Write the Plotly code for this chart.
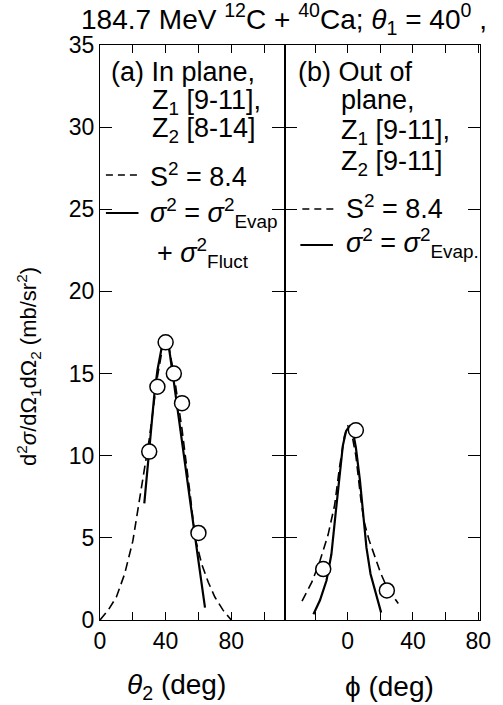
import plotly.graph_objects as go

# ---- data ----
# panel (a): in plane, theta2 (deg)
a_pts_x = [30, 35, 40, 45, 50, 60]
a_pts_y = [10.25, 14.2, 16.9, 15.0, 13.2, 5.3]
a_dash_x = [0, 5, 10, 15, 20, 25, 30, 35, 38, 40, 42, 45, 50, 55, 58, 62, 66, 70, 75, 80]
a_dash_y = [0, 0.6, 1.4, 2.8, 4.8, 7.8, 11.0, 14.8, 16.5, 17.0, 16.6, 15.0, 11.6, 7.6, 5.0, 3.4, 2.3, 1.4, 0.6, 0]
a_sol_x = [27, 30, 33, 35, 38, 40, 42, 45, 50, 55, 60, 64]
a_sol_y = [7.1, 10.5, 13.6, 15.2, 16.8, 17.2, 16.6, 14.5, 11.0, 7.2, 3.6, 0.75]

# panel (b): out of plane, phi (deg)
b_pts_x = [-15, 5, 24]
b_pts_y = [3.1, 11.55, 1.8]
b_dash_x = [-28, -22, -17, -12, -8, -5, -2, 0, 2, 5, 8, 10, 13, 16, 20, 24, 28, 31]
b_dash_y = [1.15, 2.3, 3.6, 5.2, 7.0, 9.3, 11.2, 11.8, 11.6, 10.0, 7.4, 6.0, 4.9, 4.0, 2.9, 2.0, 1.4, 1.0]
b_sol_x = [-21, -17, -13, -10, -7.5, -5, -3, -1, 1, 3, 5, 7.5, 9.5, 11.5, 14, 17.5, 20.5]
b_sol_y = [0.35, 1.2, 2.4, 4.0, 6.4, 8.9, 10.6, 11.5, 11.8, 11.6, 10.5, 8.5, 6.2, 4.4, 2.8, 1.6, 0.45]

y_ticks = [0, 5, 10, 15, 20, 25, 30, 35]
a_xticks = [0, 20, 40, 60, 80, 100]
a_xtext = ["0", "", "40", "", "80", ""]
b_xticks = [-20, 0, 20, 40, 60, 80]
b_xtext = ["", "0", "", "40", "", "80"]

FONT = "Liberation Sans, Arial, sans-serif"
DASH = "9px,5px"
fig = go.Figure()

def add_panel(xp, yp, xd, yd, xs, ys, xa, ya):
    fig.add_trace(go.Scatter(x=xd, y=yd, mode="lines", line=dict(color="black", width=1.6, dash=DASH),
                             xaxis=xa, yaxis=ya, showlegend=False, hoverinfo="skip", cliponaxis=False))
    fig.add_trace(go.Scatter(x=xs, y=ys, mode="lines", line=dict(color="black", width=2.2),
                             xaxis=xa, yaxis=ya, showlegend=False, hoverinfo="skip"))
    fig.add_trace(go.Scatter(x=xp, y=yp, mode="markers",
                             marker=dict(symbol="circle", size=15, color="white", line=dict(color="black", width=1.5)),
                             xaxis=xa, yaxis=ya, showlegend=False))

add_panel(a_pts_x, a_pts_y, a_dash_x, a_dash_y, a_sol_x, a_sol_y, "x", "y")
add_panel(b_pts_x, b_pts_y, b_dash_x, b_dash_y, b_sol_x, b_sol_y, "x2", "y2")

split = (287 - 100) / 385
axcommon = dict(showline=True, linecolor="black", linewidth=1.3, mirror="ticks", ticks="inside",
                tickcolor="black", showgrid=False, zeroline=False)
tickf = dict(family=FONT, size=23, color="black")

fig.update_layout(
    width=503, height=705,
    margin=dict(l=100, r=18, t=45, b=85),
    paper_bgcolor="white", plot_bgcolor="white",
    xaxis=dict(domain=[0, split], range=[0, 112.5], tickvals=a_xticks, ticktext=a_xtext,
               ticklen=8, tickwidth=1.3, anchor="y", tickfont=tickf, **axcommon),
    xaxis2=dict(domain=[split, 1], range=[-38.7, 81.1], tickvals=b_xticks, ticktext=b_xtext,
                ticklen=8, tickwidth=1.3, anchor="y2", tickfont=tickf, **axcommon),
    yaxis=dict(domain=[0, 1], range=[0, 35], tickvals=y_ticks, ticklen=12, tickwidth=1.3,
               anchor="x", tickfont=tickf, **axcommon),
    yaxis2=dict(domain=[0, 1], range=[0, 35], tickvals=y_ticks, ticklen=12, tickwidth=1.3,
                anchor="x2", showticklabels=False, **axcommon),
)

W, H = 385, 575
def px(x):
    return (x - 100) / W
def py(y):
    return (620 - y) / H

def txt(x, y, s, size=27, xanchor="left"):
    fig.add_annotation(x=px(x), y=py(y), xref="paper", yref="paper", text=s, showarrow=False,
                       xanchor=xanchor, yanchor="middle", font=dict(family=FONT, size=size, color="black"))

# title
txt(286, 19, "184.7 MeV <sup>12</sup>C + <sup>40</sup>Ca; <i>θ</i><sub>1</sub> = 40<sup>0</sup> ,", size=28, xanchor="center")

# panel (a) legend text
txt(109, 72, "(a) In plane,")
txt(151, 102, "Z<sub>1</sub> [9-11],")
txt(151, 130, "Z<sub>2</sub> [8-14]")
txt(149, 175, "S<sup>2</sup> = 8.4")
txt(149, 213, "<i>σ</i><sup>2</sup> = <i>σ</i><sup>2</sup><sub>Evap</sub>")
txt(156, 253, "+ <i>σ</i><sup>2</sup><sub>Fluct</sub>")

# panel (b) legend text
txt(299, 72, "(b) Out of")
txt(342, 100, "plane,")
txt(342, 132, "Z<sub>1</sub> [9-11],")
txt(342, 163, "Z<sub>2</sub> [9-11]")
txt(347, 207, "S<sup>2</sup> = 8.4")
txt(347, 243, "<i>σ</i><sup>2</sup> = <i>σ</i><sup>2</sup><sub>Evap.</sub>")

# legend keys
def key(x0, x1, y, dash):
    fig.add_shape(type="line", xref="paper", yref="paper", x0=px(x0), x1=px(x1), y0=py(y), y1=py(y),
                  line=dict(color="black", width=1.6 if dash else 2.2, dash="7px,5px" if dash else "solid"))
key(106, 141, 175, True)
key(106, 139, 213, False)
key(305, 338, 209, True)
key(303, 336, 245, False)

# axis titles
txt(178, 686, "<i>θ</i><sub>2</sub> (deg)", size=28, xanchor="center")
txt(393, 686, "ϕ (deg)", size=28, xanchor="center")
fig.add_annotation(x=px(27), y=py(366), xref="paper", yref="paper", showarrow=False, textangle=-90,
                   text="d<sup>2</sup><i>σ</i>/dΩ<sub>1</sub>dΩ<sub>2</sub> (mb/sr<sup>2</sup>)",
                   font=dict(family=FONT, size=22, color="black"), xanchor="center", yanchor="middle")

fig.write_html("out.html")
